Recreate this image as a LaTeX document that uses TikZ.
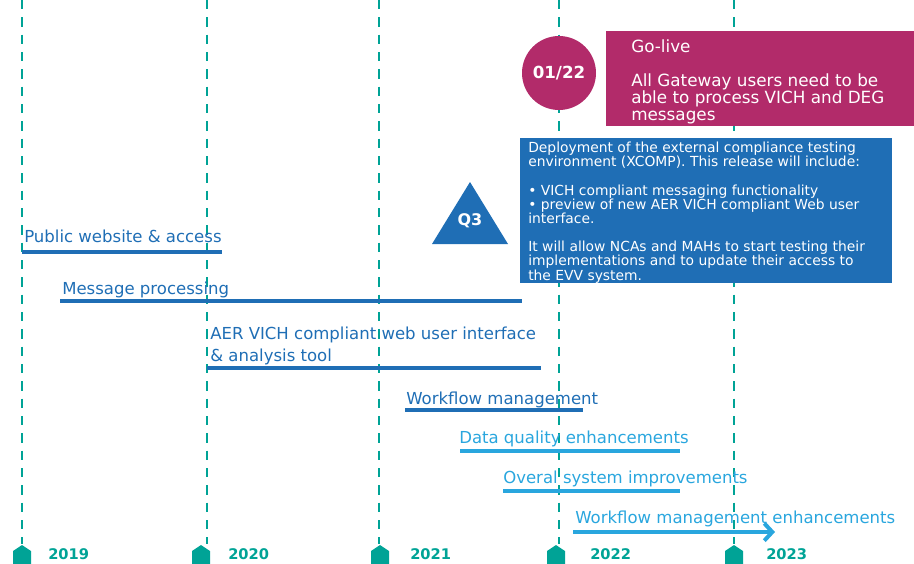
\documentclass[tikz,border=0pt]{standalone}
\usepackage{fontspec}
\setmainfont{DejaVu Sans}
\usetikzlibrary{arrows.meta}

\definecolor{evteal}{HTML}{00A396}
\definecolor{evblue}{HTML}{1F6EB5}
\definecolor{evlight}{HTML}{29A6DE}
\definecolor{evpink}{HTML}{B22B6A}

\newcommand\boxfont{\fontsize{10.4}{10.6}\selectfont\lineskiplimit=-6pt\lineskip=0pt\relax}

\tikzset{
  yearline/.style={evteal, line width=1.9pt, dash pattern=on 7pt off 6pt},
  yearlabel/.style={text=evteal, anchor=west, inner sep=0pt, font=\bfseries\fontsize{11}{12}\selectfont},
  darkbar/.style={evblue, line width=3pt},
  lightbar/.style={evlight, line width=3pt},
  barlabel/.style={anchor=base west, inner sep=0pt, font=\fontsize{12.4}{16.5}\selectfont},
  whitetext/.style={text=white, anchor=north west, inner sep=0pt, align=left},
}

\begin{document}
\begin{tikzpicture}[x=0.75pt,y=-0.75pt]
\useasboundingbox (0,0) rectangle (914,564);

% years
\foreach \lx/\mx/\tx/\yr in {22/22/48/2019, 207/201/228/2020, 379/380/410/2021, 559/556/590/2022, 734/734/766/2023}{
  \draw[yearline] (\lx,0) -- (\lx,544);
  \fill[evteal] (\mx-9,564) -- (\mx-9,551) -- (\mx,545) -- (\mx+9,551) -- (\mx+9,564) -- cycle;
  \node[yearlabel] (y\yr) at (\tx,554) {\yr};
}

% go-live
\node[circle, fill=evpink, minimum size=55.5pt, inner sep=0pt, text=white,
      font=\bfseries\fontsize{12.5}{15}\selectfont] (golive) at (559,73) {01/22};
\node[fill=evpink, anchor=north west, minimum width=231pt, minimum height=71.25pt, inner sep=0pt] (liveBox) at (606,31) {};
\node[whitetext, font=\fontsize{12.6}{12.9}\selectfont] (liveText) at (631,39)
  {Go-live\\[12.9pt]All Gateway users need to be\\able to process VICH and DEG\\messages};

% XCOMP release
\fill[evblue] (432,244) -- (508,244) -- (470,182) -- cycle;
\node[text=white, font=\bfseries\fontsize{12}{14}\selectfont] (q3) at (470,221) {Q3};
\node[fill=evblue, anchor=north west, minimum width=279pt, minimum height=108.75pt, inner sep=0pt] (xcompBox) at (520,138) {};
\node[whitetext, font=\boxfont] (xcompText) at (528,142)
  {Deployment of the external compliance testing\\environment (XCOMP). This release will include:\\[10.6pt]%
   \textbullet{} VICH compliant messaging functionality\\\textbullet{} preview of new AER VICH compliant Web user\\interface.\\[10.6pt]%
   It will allow NCAs and MAHs to start testing their\\implementations and to update their access to\\the EVV system.};

% work streams
\node[barlabel, text=evblue] (pub) at (24,242) {Public website \& access};
\draw[darkbar] (22,252) coordinate (pubA) -- (222,252) coordinate (pubB);

\node[barlabel, text=evblue] (msg) at (62,294) {Message processing};
\draw[darkbar] (60,301) coordinate (msgA) -- (522,301) coordinate (msgB);

\node[barlabel, text=evblue, align=left, anchor=north west] (aer) at (210,327) {AER VICH compliant web user interface\\\& analysis tool};
\draw[darkbar] (207,368) coordinate (aerA) -- (541,368) coordinate (aerB);

\node[barlabel, text=evblue] (wfm) at (406,404) {Workflow management};
\draw[darkbar] (405,410) coordinate (wfmA) -- (583,410) coordinate (wfmB);

\node[barlabel, text=evlight] (dq) at (459,443) {Data quality enhancements};
\draw[lightbar] (460,451) coordinate (dqA) -- (680,451) coordinate (dqB);

\node[barlabel, text=evlight] (sys) at (503,483) {Overal system improvements};
\draw[lightbar] (503,491) coordinate (sysA) -- (680,491) coordinate (sysB);

\node[barlabel, text=evlight] (wfe) at (575,523) {Workflow management enhancements};
\draw[lightbar, -{Straight Barb[length=6pt, width=13pt, line width=3pt]}] (573,532) coordinate (wfeA) -- (775,532) coordinate (wfeB);

\end{tikzpicture}
\end{document}
